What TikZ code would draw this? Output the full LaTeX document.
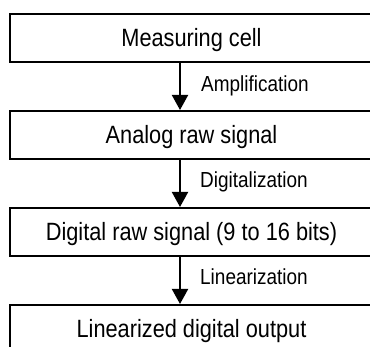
\documentclass[tikz,border=0pt]{standalone}
\usepackage{fontspec}
\setmainfont{Liberation Sans}[FakeStretch=0.87]
\usetikzlibrary{arrows.meta}
\tikzset{
  stagebox/.style={draw=black, line width=2pt, rectangle, inner sep=0pt,
    minimum width=363pt, minimum height=48pt,
    font=\fontsize{25}{30}\selectfont, text height=17.9pt, text depth=0pt},
  steplabel/.style={anchor=base west, inner sep=0pt,
    font=\fontsize{21.8}{26}\selectfont},
  flow/.style={line width=2pt, -{Triangle[length=15pt,width=16pt]}}
}
\begin{document}
\begin{tikzpicture}[x=1pt,y=-1pt]
  \useasboundingbox (0,0) rectangle (370,347);
  % processing stages
  \node[stagebox] (cell) at (191.5,38)  {Measuring cell};
  \node[stagebox] (analog) at (191.5,135) {Analog raw signal};
  \node[stagebox] (digital) at (191.5,232) {Digital raw signal (9 to 16 bits)};
  \node[stagebox] (lin) at (191.5,329) {Linearized digital output};
  % vertical line of the arrows
  \coordinate (ax) at (180,0);
  \draw[flow] (cell.south -| ax) -- (analog.north -| ax);
  \draw[flow] (analog.south -| ax) -- (digital.north -| ax);
  \draw[flow] (digital.south -| ax) -- (lin.north -| ax);
  % step names
  \node[steplabel] (amp) at (201,92) {Amplification};
  \node[steplabel] (dig) at (200,187.5) {Digitalization};
  \node[steplabel] (linz) at (200,285) {Linearization};
\end{tikzpicture}
\end{document}
